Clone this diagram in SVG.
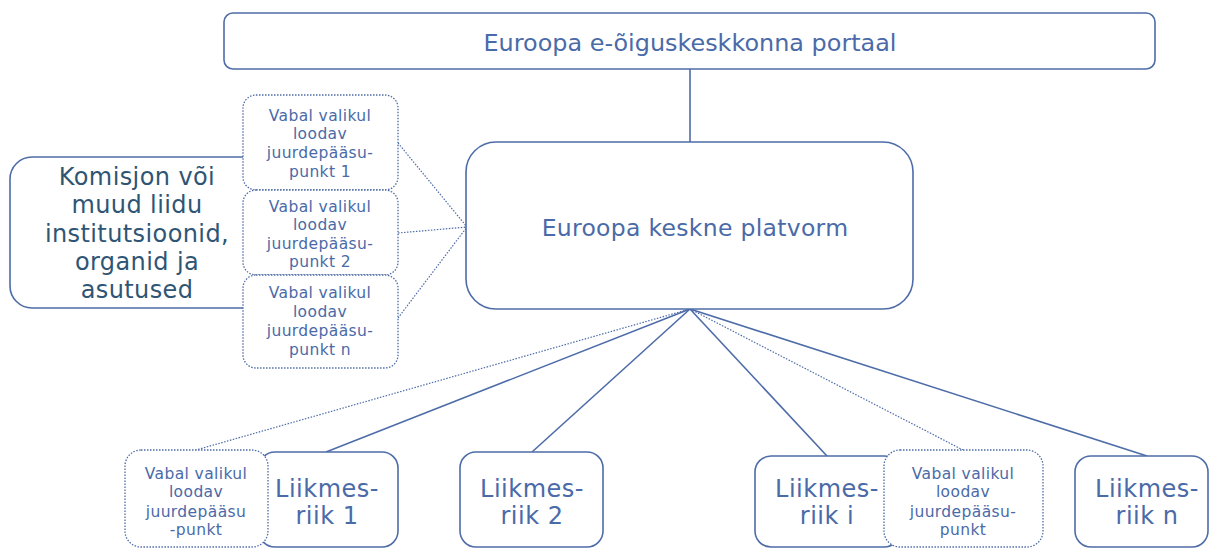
<svg xmlns="http://www.w3.org/2000/svg" width="1210" height="548" viewBox="0 0 1210 548">
<style>
.box{fill:#fff;stroke:#4d6ca8;stroke-width:1.6}
.dot{fill:#fff;stroke:#4d6ca8;stroke-width:1.3;stroke-dasharray:1.5 1.5}
.ln{stroke:#4d6ca8;stroke-width:1.6;fill:none}
.dl{stroke:#4d6ca8;stroke-width:1.2;fill:none;stroke-dasharray:1.5 1.5}
text{font-family:"DejaVu Sans",Verdana,sans-serif;fill:#4a6aa8;text-anchor:middle}
.s{font-size:15.5px;letter-spacing:0.4px}
.m{font-size:24px;letter-spacing:0.5px}
.k{font-size:24px;fill:#2f5575;letter-spacing:0.4px}
</style>
<g id="connectors">
<line class="ln" x1="690" y1="69" x2="690" y2="142"/>
<line class="dl" x1="398" y1="143" x2="467" y2="227"/>
<line class="dl" x1="398" y1="233" x2="467" y2="227"/>
<line class="dl" x1="398" y1="318" x2="467" y2="227"/>
<line class="dl" x1="690" y1="309" x2="196" y2="450"/>
<line class="ln" x1="690" y1="309" x2="326" y2="452"/>
<line class="ln" x1="690" y1="309" x2="532" y2="452"/>
<line class="ln" x1="690" y1="309" x2="827" y2="456"/>
<line class="dl" x1="690" y1="309" x2="963" y2="450"/>
<line class="ln" x1="690" y1="309" x2="1147" y2="456"/>
</g>
<g id="portal">
<rect class="box" x="224" y="13" width="931" height="56" rx="9"/>
<text x="690" y="51" style="font-size:23.5px" textLength="413" lengthAdjust="spacingAndGlyphs">Euroopa e-õiguskeskkonna portaal</text>
</g>
<g id="platform">
<rect class="box" x="466" y="142" width="447" height="167" rx="30"/>
<text x="695" y="236" style="font-size:23.5px;letter-spacing:0.3px">Euroopa keskne platvorm</text>
</g>
<g id="commission">
<rect class="box" x="10" y="157" width="260" height="151" rx="22"/>
<text class="k" x="137" y="185">Komisjon või</text>
<text class="k" x="137" y="213">muud liidu</text>
<text class="k" x="137" y="242">institutsioonid,</text>
<text class="k" x="137" y="270">organid ja</text>
<text class="k" x="137" y="298">asutused</text>
</g>
<g id="ap1">
<rect class="dot" x="243" y="95" width="155" height="95" rx="13"/>
<text class="s" x="320" y="121">Vabal valikul</text>
<text class="s" x="320" y="139">loodav</text>
<text class="s" x="320" y="158">juurdepääsu-</text>
<text class="s" x="320" y="177">punkt 1</text>
</g>
<g id="ap2">
<rect class="dot" x="243" y="190" width="155" height="85" rx="13"/>
<text class="s" x="320" y="212">Vabal valikul</text>
<text class="s" x="320" y="230">loodav</text>
<text class="s" x="320" y="249">juurdepääsu-</text>
<text class="s" x="320" y="267">punkt 2</text>
</g>
<g id="apn">
<rect class="dot" x="243" y="275" width="155" height="93" rx="13"/>
<text class="s" x="320" y="298">Vabal valikul</text>
<text class="s" x="320" y="317">loodav</text>
<text class="s" x="320" y="336">juurdepääsu-</text>
<text class="s" x="320" y="355">punkt n</text>
</g>
<g id="ms1">
<rect class="box" x="259" y="452" width="139" height="95" rx="16"/>
<text class="m" x="327" y="497">Liikmes-</text>
<text class="m" x="327" y="524">riik 1</text>
</g>
<g id="ap-ms1">
<rect class="dot" x="125" y="450" width="143" height="97" rx="16"/>
<text class="s" x="196" y="479">Vabal valikul</text>
<text class="s" x="196" y="497">loodav</text>
<text class="s" x="196" y="517">juurdepääsu</text>
<text class="s" x="196" y="535">-punkt</text>
</g>
<g id="ms2">
<rect class="box" x="460" y="452" width="143" height="95" rx="16"/>
<text class="m" x="532" y="497">Liikmes-</text>
<text class="m" x="532" y="524">riik 2</text>
</g>
<g id="msi">
<rect class="box" x="755" y="456" width="145" height="91" rx="16"/>
<text class="m" x="827" y="497">Liikmes-</text>
<text class="m" x="827" y="524">riik i</text>
</g>
<g id="ap-msi">
<rect class="dot" x="884" y="450" width="159" height="97" rx="16"/>
<text class="s" x="963" y="479">Vabal valikul</text>
<text class="s" x="963" y="497">loodav</text>
<text class="s" x="963" y="517">juurdepääsu-</text>
<text class="s" x="963" y="535">punkt</text>
</g>
<g id="msn">
<rect class="box" x="1075" y="456" width="133" height="91" rx="16"/>
<text class="m" x="1147" y="497">Liikmes-</text>
<text class="m" x="1147" y="524">riik n</text>
</g>
</svg>
